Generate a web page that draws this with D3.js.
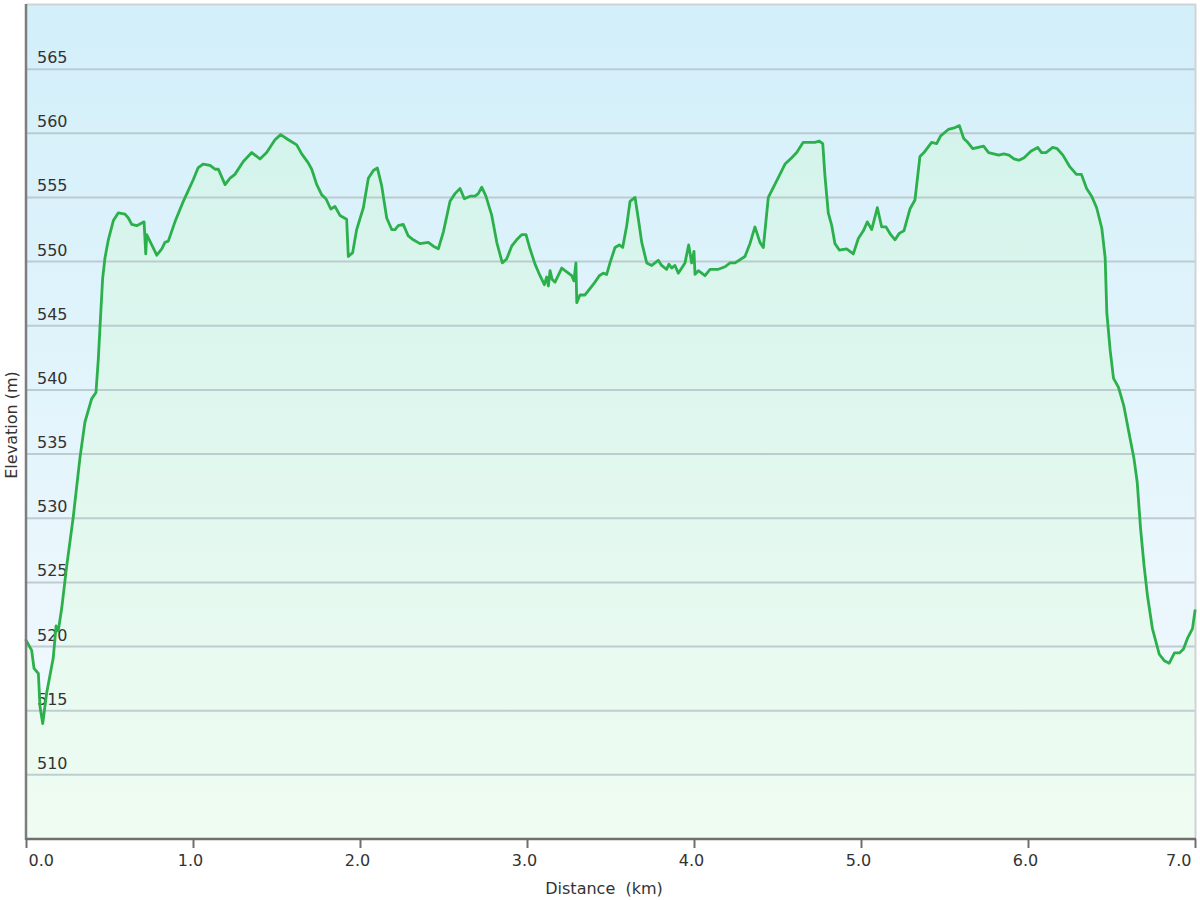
<!DOCTYPE html>
<html>
<head>
<meta charset="utf-8">
<script src="https://cdn.jsdelivr.net/npm/d3@7"></script>
<style>
  html, body { margin: 0; padding: 0; background: #ffffff; }
  svg { display: block; }
  text { font-family: "DejaVu Sans", Verdana, sans-serif; }
</style>
</head>
<body>
<svg id="chart" width="1200" height="900"></svg>
<script>
// ---- data ----
const distanceKm = [
  0.000, 0.034, 0.048, 0.074, 0.084, 0.100, 0.124, 0.163, 0.180, 0.193,
  0.214, 0.244, 0.283, 0.323, 0.353, 0.393, 0.419, 0.433, 0.443, 0.459,
  0.473, 0.493, 0.523, 0.553, 0.593, 0.613, 0.633, 0.663, 0.707, 0.717,
  0.723, 0.753, 0.783, 0.813, 0.832, 0.852, 0.892, 0.942, 1.002, 1.030,
  1.060, 1.102, 1.132, 1.152, 1.192, 1.222, 1.251, 1.301, 1.352, 1.401,
  1.441, 1.491, 1.525, 1.571, 1.621, 1.651, 1.690, 1.711, 1.741, 1.771,
  1.796, 1.825, 1.850, 1.880, 1.920, 1.930, 1.956, 1.980, 2.020, 2.050,
  2.080, 2.104, 2.130, 2.160, 2.190, 2.210, 2.229, 2.259, 2.289, 2.319,
  2.359, 2.409, 2.439, 2.469, 2.499, 2.539, 2.569, 2.599, 2.625, 2.659,
  2.689, 2.708, 2.729, 2.754, 2.789, 2.819, 2.852, 2.878, 2.908, 2.938,
  2.968, 2.994, 3.018, 3.048, 3.078, 3.104, 3.118, 3.128, 3.138, 3.151,
  3.168, 3.208, 3.238, 3.268, 3.281, 3.293, 3.298, 3.317, 3.347, 3.377,
  3.407, 3.433, 3.457, 3.477, 3.497, 3.527, 3.553, 3.573, 3.597, 3.617,
  3.647, 3.667, 3.687, 3.717, 3.747, 3.786, 3.806, 3.836, 3.850, 3.866,
  3.886, 3.906, 3.946, 3.968, 3.986, 4.000, 4.006, 4.026, 4.066, 4.096,
  4.146, 4.186, 4.216, 4.246, 4.305, 4.335, 4.365, 4.395, 4.415, 4.445,
  4.495, 4.545, 4.585, 4.615, 4.654, 4.695, 4.725, 4.750, 4.771, 4.784,
  4.804, 4.825, 4.844, 4.870, 4.914, 4.954, 4.984, 5.014, 5.038, 5.064,
  5.098, 5.124, 5.150, 5.178, 5.204, 5.229, 5.257, 5.293, 5.323, 5.353,
  5.377, 5.423, 5.453, 5.477, 5.523, 5.553, 5.589, 5.615, 5.639, 5.669,
  5.734, 5.764, 5.825, 5.855, 5.886, 5.916, 5.946, 5.977, 6.017, 6.058,
  6.081, 6.108, 6.148, 6.175, 6.209, 6.250, 6.290, 6.320, 6.351, 6.381,
  6.411, 6.442, 6.462, 6.472, 6.492, 6.512, 6.542, 6.573, 6.604, 6.634,
  6.654, 6.674, 6.695, 6.715, 6.745, 6.786, 6.816, 6.846, 6.877, 6.907,
  6.931, 6.957, 6.985, 7.000
];
const elevationM = [
  520.5, 519.7, 518.3, 517.9, 515.3, 514.0, 516.4, 519.1, 521.6, 521.2,
  523.0, 526.3, 530.1, 534.7, 537.5, 539.3, 539.8, 542.4, 544.9, 548.7,
  550.3, 551.7, 553.2, 553.8, 553.7, 553.4, 552.9, 552.8, 553.1, 550.6,
  552.1, 551.3, 550.5, 551.0, 551.5, 551.6, 553.1, 554.7, 556.4, 557.3,
  557.6, 557.5, 557.2, 557.2, 556.0, 556.5, 556.8, 557.8, 558.5, 558.0,
  558.5, 559.5, 559.9, 559.5, 559.1, 558.4, 557.7, 557.2, 556.0, 555.2,
  554.9, 554.1, 554.3, 553.6, 553.3, 550.4, 550.7, 552.5, 554.2, 556.5,
  557.1, 557.3, 555.9, 553.4, 552.5, 552.5, 552.8, 552.9, 552.0, 551.7,
  551.4, 551.5, 551.2, 551.0, 552.3, 554.7, 555.3, 555.7, 554.9, 555.1,
  555.1, 555.3, 555.8, 555.1, 553.6, 551.5, 549.9, 550.2, 551.2, 551.7,
  552.1, 552.1, 551.0, 549.8, 548.9, 548.2, 548.8, 548.1, 549.3, 548.6,
  548.4, 549.5, 549.2, 548.9, 548.5, 549.9, 546.8, 547.4, 547.4, 547.9,
  548.4, 548.9, 549.1, 549.0, 549.9, 551.1, 551.3, 551.1, 552.8, 554.7,
  555.0, 553.3, 551.5, 549.9, 549.7, 550.1, 549.7, 549.4, 549.8, 549.5,
  549.7, 549.1, 549.9, 551.3, 549.9, 550.8, 549.0, 549.3, 548.9, 549.4,
  549.4, 549.6, 549.9, 549.9, 550.4, 551.4, 552.7, 551.5, 551.1, 555.0,
  556.3, 557.6, 558.1, 558.5, 559.3, 559.3, 559.3, 559.4, 559.2, 556.7,
  553.8, 552.8, 551.4, 550.9, 551.0, 550.6, 551.8, 552.4, 553.1, 552.5,
  554.2, 552.7, 552.7, 552.1, 551.7, 552.2, 552.4, 554.1, 554.8, 558.2,
  558.5, 559.3, 559.2, 559.8, 560.3, 560.4, 560.6, 559.6, 559.3, 558.8,
  559.0, 558.5, 558.3, 558.4, 558.3, 558.0, 557.9, 558.1, 558.6, 558.9,
  558.5, 558.5, 558.9, 558.8, 558.3, 557.4, 556.8, 556.8, 555.7, 555.1,
  554.2, 552.6, 550.3, 546.0, 543.1, 540.9, 540.2, 538.8, 536.7, 534.7,
  532.8, 529.2, 526.3, 524.0, 521.4, 519.4, 518.9, 518.7, 519.5, 519.5,
  519.8, 520.7, 521.4, 522.8
];
const yTickValues = [510, 515, 520, 525, 530, 535, 540, 545, 550, 555, 560, 565];
const xTickValues = [0, 1, 2, 3, 4, 5, 6, 7];
const xAxisTitle = "Distance  (km)";
const yAxisTitle = "Elevation (m)";

// ---- layout ----
const plot = { left: 26, right: 1195, top: 5, bottom: 839 };
const svg = d3.select("#chart");

const x = d3.scaleLinear().domain([0, 7]).range([plot.left, plot.right]);
const y = d3.scaleLinear().domain([505, 570]).range([plot.bottom, plot.top]);

const data = distanceKm.map((d, i) => ({ d, e: elevationM[i] }));

// gradients
const defs = svg.append("defs");
const bg = defs.append("linearGradient").attr("id", "bgGrad")
  .attr("gradientUnits", "userSpaceOnUse")
  .attr("x1", 0).attr("y1", plot.top).attr("x2", 0).attr("y2", plot.bottom);
bg.append("stop").attr("offset", "0%").attr("stop-color", "#d2effa");
bg.append("stop").attr("offset", "100%").attr("stop-color", "#f5fafe");

const ag = defs.append("linearGradient").attr("id", "areaGrad")
  .attr("gradientUnits", "userSpaceOnUse")
  .attr("x1", 0).attr("y1", plot.top).attr("x2", 0).attr("y2", plot.bottom);
ag.append("stop").attr("offset", "0%").attr("stop-color", "#cff2ea");
ag.append("stop").attr("offset", "100%").attr("stop-color", "#effcf2");

// background
svg.append("rect")
  .attr("x", plot.left).attr("y", plot.top)
  .attr("width", plot.right - plot.left).attr("height", plot.bottom - plot.top)
  .attr("fill", "url(#bgGrad)");

// area
const area = d3.area()
  .x(p => x(p.d))
  .y0(y(505))
  .y1(p => y(p.e));
svg.append("path").datum(data)
  .attr("d", area)
  .attr("fill", "url(#areaGrad)");

// gridlines
svg.append("g").attr("class", "grid")
  .selectAll("line").data(yTickValues).join("line")
  .attr("x1", plot.left).attr("x2", plot.right)
  .attr("y1", v => y(v)).attr("y2", v => y(v))
  .attr("stroke", "#b6c4c9").attr("stroke-width", 2).attr("stroke-opacity", 0.85);

// y tick labels (inside plot, above gridline)
svg.append("g").attr("class", "ylabels")
  .selectAll("text").data(yTickValues).join("text")
  .attr("x", plot.left + 11)
  .attr("y", v => y(v) - 6)
  .attr("font-size", 16)
  .attr("fill", "#333")
  .text(v => v);

// frame: top and right light borders
svg.append("line").attr("x1", plot.left).attr("x2", plot.right + 1)
  .attr("y1", plot.top - 0.5).attr("y2", plot.top - 0.5)
  .attr("stroke", "#cfd3d5").attr("stroke-width", 2);
svg.append("line").attr("x1", plot.right + 0.5).attr("x2", plot.right + 0.5)
  .attr("y1", plot.top - 1).attr("y2", plot.bottom)
  .attr("stroke", "#cfd3d5").attr("stroke-width", 2);

// line
const line = d3.line().x(p => x(p.d)).y(p => y(p.e));
svg.append("path").datum(data)
  .attr("d", line)
  .attr("fill", "none")
  .attr("stroke", "#2bb04b")
  .attr("stroke-width", 2.8)
  .attr("stroke-linejoin", "round")
  .attr("stroke-linecap", "round");

// left axis line
svg.append("line").attr("x1", plot.left).attr("x2", plot.left)
  .attr("y1", plot.top - 1).attr("y2", plot.bottom + 1)
  .attr("stroke", "#7d7d7d").attr("stroke-width", 2.5);

// bottom axis via d3.axisBottom
const xAxis = d3.axisBottom(x)
  .tickValues(xTickValues)
  .tickFormat(d3.format(".1f"))
  .tickSize(9)
  .tickPadding(8);
const gx = svg.append("g")
  .attr("transform", `translate(0,${plot.bottom})`)
  .call(xAxis);
gx.select(".domain").attr("stroke", "#6f6f6f").attr("stroke-width", 2.5)
  .attr("d", `M${plot.left},0H${plot.right + 1}`);
gx.selectAll(".tick line").attr("stroke", "#6f6f6f").attr("stroke-width", 2);
gx.selectAll(".tick text")
  .attr("font-family", "DejaVu Sans, Verdana, sans-serif")
  .attr("font-size", 16)
  .attr("fill", "#333")
  .attr("y", null).attr("dy", null)
  .attr("transform", "translate(0,27)")
  .attr("text-anchor", (d, i) => i === 0 ? "start" : (i === xTickValues.length - 1 ? "end" : "middle"))
  .attr("dx", (d, i) => i === 0 ? 2 : (i === xTickValues.length - 1 ? -4 : -3));

// axis titles
svg.append("text")
  .attr("x", 604).attr("y", 894)
  .attr("text-anchor", "middle")
  .attr("font-size", 16)
  .attr("fill", "#333")
  .style("white-space", "pre")
  .text(xAxisTitle);

svg.append("text")
  .attr("transform", `translate(17,${(plot.top + plot.bottom) / 2 + 3}) rotate(-90)`)
  .attr("text-anchor", "middle")
  .attr("font-size", 16)
  .attr("fill", "#333")
  .text(yAxisTitle);
</script>
</body>
</html>
